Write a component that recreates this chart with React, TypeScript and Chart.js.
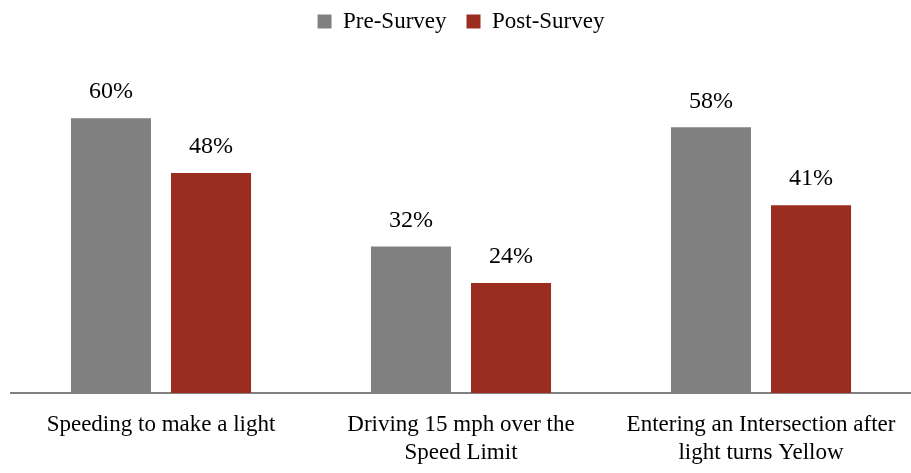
import React, { useEffect, useRef } from "react";
import { Chart, registerables } from "chart.js";

Chart.register(...registerables);

const categories: string[][] = [
  ["Speeding to make a light"],
  ["Driving 15 mph over the", "Speed Limit"],
  ["Entering an Intersection after", "light turns Yellow"],
];
const preSurvey: number[] = [60, 32, 58];
const postSurvey: number[] = [48, 24, 41];
const seriesNames: string[] = ["Pre-Survey", "Post-Survey"];

const FONT = "'Liberation Serif', 'DejaVu Serif', serif";

const valueLabels = {
  id: "valueLabels",
  afterDatasetsDraw(chart: any) {
    const ctx = chart.ctx;
    ctx.save();
    ctx.font = `24px ${FONT}`;
    ctx.fillStyle = "#000";
    ctx.textAlign = "center";
    ctx.textBaseline = "bottom";
    chart.data.datasets.forEach((ds: any, i: number) => {
      const meta = chart.getDatasetMeta(i);
      meta.data.forEach((el: any, j: number) => {
        ctx.fillText(`${ds.data[j]}%`, el.x, el.y - 14);
      });
    });
    ctx.restore();
  },
};

export default function App() {
  const ref = useRef<HTMLCanvasElement>(null);
  useEffect(() => {
    if (!ref.current) return;
    const chart = new Chart(ref.current, {
      type: "bar",
      data: {
        labels: categories,
        datasets: [
          {
            label: seriesNames[0],
            data: preSurvey,
            backgroundColor: "#808080",
            categoryPercentage: 0.667,
            barPercentage: 0.8,
          },
          {
            label: seriesNames[1],
            data: postSurvey,
            backgroundColor: "#9B2D20",
            categoryPercentage: 0.667,
            barPercentage: 0.8,
          },
        ],
      },
      options: {
        animation: false,
        responsive: true,
        maintainAspectRatio: false,
        layout: { padding: { left: 11, right: 0, top: -10, bottom: 0 } },
        plugins: {
          legend: {
            position: "top",
            labels: {
              boxWidth: 14,
              boxHeight: 14,
              padding: 20,
              color: "#000",
              font: { family: FONT, size: 23 },
            },
          },
          tooltip: { enabled: false },
        },
        scales: {
          x: {
            grid: { display: false },
            border: { color: "#808080", width: 2 },
            ticks: {
              color: "#000",
              font: { family: FONT, size: 23, lineHeight: 1.22 },
              maxRotation: 0,
              autoSkip: false,
              padding: 10,
            },
            afterFit(scale: any) {
              scale.height = 80;
            },
          },
          y: {
            display: false,
            min: 0,
            max: 76.4,
          },
        },
      },
      plugins: [valueLabels],
    });
    return () => chart.destroy();
  }, []);
  return (
    <div style={{ position: "fixed", left: 0, top: 0, width: 911, height: 473, background: "#fff" }}>
      <canvas ref={ref} />
    </div>
  );
}
